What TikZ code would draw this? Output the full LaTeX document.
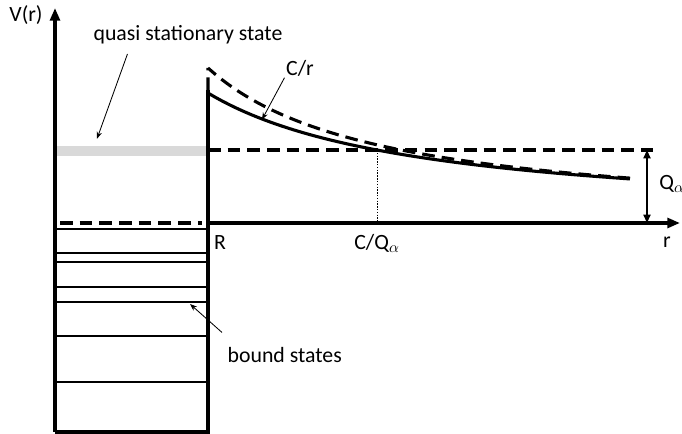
\documentclass[tikz,border=0pt]{standalone}
\usepackage{fontspec}
\setmainfont{Carlito}
\usepackage{tikz}
\usetikzlibrary{arrows.meta,calc}

\begin{document}
\begin{tikzpicture}[
    thickline/.style={line width=2.2pt},
    level/.style={line width=1pt},
    dashline/.style={line width=2.2pt, dash pattern=on 9pt off 5pt},
    axis/.style={line width=2.2pt, -{Triangle[length=9pt,width=7pt]}},
    arr/.style={-{Stealth[length=5pt]}, line width=0.6pt},
    lbl/.style={font=\fontsize{15.5}{18}\selectfont, inner sep=1pt},
]
\useasboundingbox (0,0) rectangle (17.05,10.85);

% Punkte
\coordinate (bl)   at (1.375,0.05);
\coordinate (br)   at (5.2,0.05);
\coordinate (vtop) at (1.375,10.65);
\coordinate (wall) at (5.2,8.6);
\coordinate (R0)   at (5.2,5.275);
\coordinate (rend) at (17.0,5.275);
\coordinate (qtip) at (2.425,7.38);
\coordinate (ctip) at (6.55,7.86);
\coordinate (btip) at (4.75,3.25);

% quasistationaerer Zustand
\node[fill=gray!30, minimum width=3.825cm, minimum height=0.25cm, inner sep=0pt, anchor=west] (band) at (1.375,7.075) {};

% gebundene Zustaende
\draw[dashline] (1.5,5.275) -- (5.05,5.275);
\foreach \y in {5.125,4.525,4.3,3.675,3.3,2.45,1.3}
    \draw[level] (1.375,\y) -- (5.2,\y);

% Topf und Achsen
\draw[thickline] (bl) -- (br) -- (wall);
\draw[axis] (bl) -- (vtop);
\draw[axis] (R0) -- (rend);

% Coulombwall
\draw[thickline] plot[domain=5.2:15.75, samples=60] (\x, {5.275+17.58/(\x+0.21)});
\draw[dashline] (wall) -- (5.2,9.15) -- plot[domain=5.2:15.75, samples=60] (\x, {5.275+16.66/(\x-0.9)});

% Q-Niveau
\draw[dashline] (5.2,7.1) -- (16.325,7.1);
\draw[line width=0.5pt, dash pattern=on 1pt off 1pt] (9.425,7.1) -- (9.425,5.275);
\draw[line width=1.4pt, {Triangle[length=6pt,width=5pt]}-{Triangle[length=6pt,width=5pt]}] (16.175,7.1) -- (16.175,5.275);

% Beschriftung
\node[lbl] (vlabel)  at (0.65,10.475) {V(r)};
\node[lbl] (qlabel)  at (4.7,9.975) {quasi stationary state};
\node[lbl] (clabel)  at (7.5,9.15) {C/r};
\node[lbl] (rlabel)  at (5.5,4.775) {R};
\node[lbl] (cqlabel) at (9.425,4.775) {C/Q$_\alpha$};
\node[lbl] (xlabel)  at (16.675,4.8) {r};
\node[lbl, inner sep=0pt, anchor=west] (qalabel) at (16.48,6.25) {Q$_\alpha$};
\node[lbl, anchor=west] (bound) at (5.65,1.975) {bound states};

% Pfeile
\draw[arr, shorten <=6pt] ($(qlabel.south west)!0.2!(qlabel.south east)$) -- (qtip);
\draw[arr] (clabel.south west) -- (ctip);
\draw[arr] ($(bound.north west)+(-0.1,0.33)$) -- (btip);

\end{tikzpicture}
\end{document}
